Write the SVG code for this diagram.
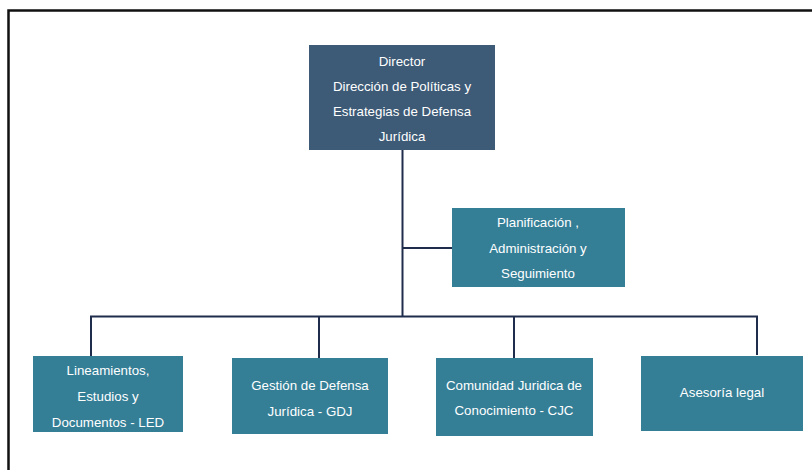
<svg xmlns="http://www.w3.org/2000/svg" width="812" height="470" viewBox="0 0 812 470">
<style>
.bg{fill:#ffffff}
.frame{stroke:#111111;stroke-width:2.5;fill:none}
.dir{fill:#3d5a76}
.box{fill:#347e96}
.t{font-family:"Liberation Sans",Arial,sans-serif;font-size:13.3px;fill:#ffffff;text-anchor:middle;dominant-baseline:central}
.c{stroke:#1f2c4c;stroke-width:2;fill:none}
</style>
<rect class="bg" x="0" y="0" width="812" height="470"/>
<path class="frame" d="M8.5,470 V10.5 H812"/>
<g id="connectors">
<path class="c" d="M402.5,150 V317"/>
<path class="c" d="M402.5,248 H452"/>
<path class="c" d="M91,356 V316.5 H757 V355"/>
<path class="c" d="M319,316.5 V358"/>
<path class="c" d="M514,316.5 V358"/>
</g>
<g id="director">
<rect class="dir" x="309" y="45" width="186" height="105"/>
<text class="t" x="402" y="61">Director</text>
<text class="t" x="402" y="86">Dirección de Políticas y</text>
<text class="t" x="402" y="111">Estrategias de Defensa</text>
<text class="t" x="402" y="136">Jurídica</text>
</g>
<g id="planificacion">
<rect class="box" x="452" y="208" width="173" height="79"/>
<text class="t" x="538" y="222">Planificación ,</text>
<text class="t" x="538" y="248">Administración y</text>
<text class="t" x="538" y="273">Seguimiento</text>
</g>
<g id="led">
<rect class="box" x="33" y="356" width="150" height="76"/>
<text class="t" x="108" y="370">Lineamientos,</text>
<text class="t" x="108" y="396">Estudios y</text>
<text class="t" x="108" y="422">Documentos - LED</text>
</g>
<g id="gdj">
<rect class="box" x="232" y="358" width="156" height="76"/>
<text class="t" x="310" y="385">Gestión de Defensa</text>
<text class="t" x="310" y="411">Jurídica - GDJ</text>
</g>
<g id="cjc">
<rect class="box" x="436" y="358" width="157" height="78"/>
<text class="t" x="514" y="385">Comunidad Juridica de</text>
<text class="t" x="514" y="410">Conocimiento - CJC</text>
</g>
<g id="asesoria">
<rect class="box" x="641" y="356" width="162" height="75"/>
<text class="t" x="722" y="392">Asesoría legal</text>
</g>
</svg>
